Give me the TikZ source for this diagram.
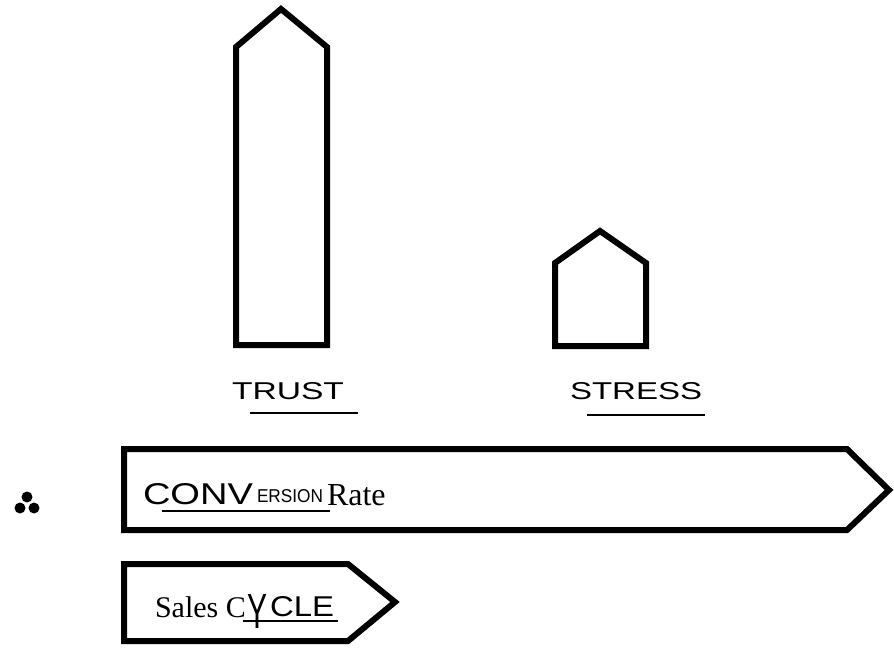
\documentclass[tikz,border=0pt]{standalone}
\usepackage{fontspec}
\setmainfont{Liberation Serif}
\setsansfont{Liberation Sans}
\begin{document}
\begin{tikzpicture}[x=1pt,y=-1pt,
  outline/.style={draw=black,line width=6pt,line join=miter,fill=white},
  hand/.style={inner sep=0pt,outer sep=0pt,font=\sffamily,anchor=south west},
  typed/.style={inner sep=0pt,outer sep=0pt,anchor=base west},
  underline/.style={line width=1.6pt},
  dot/.style={fill=black,draw=none}]
\useasboundingbox[fill=white] (0,0) rectangle (894,648);

% two house-shaped columns
\draw[outline] (236,345) -- (236,47) -- (281,9) -- (327,47) -- (327,345) -- cycle;
\draw[outline] (555,346) -- (555,263) -- (600,231) -- (646,263) -- (646,346) -- cycle;

% long and short arrow banners
\draw[outline] (124,449) -- (847,449) -- (889,490) -- (847,530) -- (124,530) -- cycle;
\draw[outline] (124,564) -- (348,564) -- (395,602) -- (348,641) -- (124,641) -- cycle;

% "therefore" dots
\fill[dot] (27,497) circle (5.5);
\fill[dot] (20,508) circle (5.5);
\fill[dot] (34,508) circle (5.5);

% column labels
\node[hand] (trust) at (232,400) {\resizebox{112pt}{17pt}{TRUST}};
\draw[underline] (250,413) -- (358,413);
\node[hand] (stress) at (570,400) {\resizebox{132pt}{17pt}{STRESS}};
\draw[underline] (587,415) -- (705,415);

% banner labels
\node[hand] (conv) at (143,505) {\resizebox{110pt}{21pt}{CONV}};
\node[hand] (ersion) at (257,503) {\resizebox{66pt}{13pt}{ERSION}};
\node[typed,font=\fontsize{32}{32}\selectfont] (rate) at (327,505) {Rate};
\draw[underline] (162,511) -- (330,511);

\node[typed,font=\fontsize{30}{30}\selectfont] (sales) at (155,617) {Sales C};
\node[hand,anchor=north west] (ylet) at (247,594) {\resizebox{20pt}{34pt}{Y}};
\node[hand] (cle) at (270,617) {\resizebox{64pt}{20pt}{CLE}};
\draw[underline] (243,621) -- (338,621);
\end{tikzpicture}
\end{document}
